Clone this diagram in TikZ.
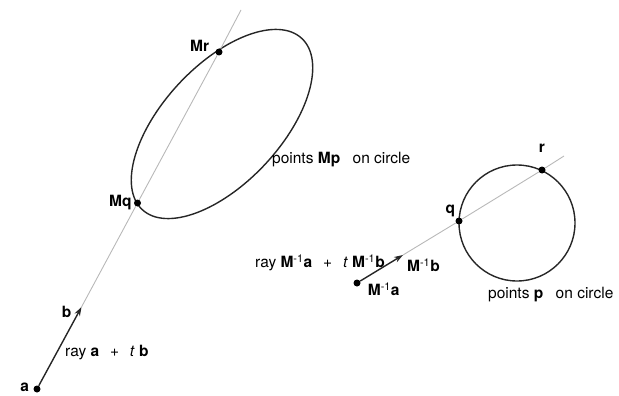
\documentclass[tikz,border=0pt]{standalone}
\usepackage{fontspec}
\setmainfont{TeX Gyre Heros}
\usetikzlibrary{arrows.meta,positioning}
\tikzset{
    spot/.style={
        circle,
        fill=black,
        inner sep=0pt,
        minimum size=7pt
    },
    lbl/.style={
        font=\fontsize{15.5}{18}\selectfont,
        inner sep=1pt
    },
    rayline/.style={
        draw=black!28,
        line width=0.9pt
    },
    raydir/.style={
        -{Stealth[length=9pt,width=6pt]},
        line width=1.4pt,
        draw=black!85
    },
    outline/.style={
        draw=black!85,
        line width=1.4pt
    }
}
\newcommand{\Minv}{\textbf{M}\textsuperscript{-1}}

\begin{document}
\begin{tikzpicture}[x=1pt, y=-1pt, node distance=2pt]
\useasboundingbox (0,0) rectangle (619,396);
% transformed ellipse and unit circle
\draw[outline, rotate around={47:(222,124)}] (222,124) ellipse [x radius=117, y radius=59];
\draw[outline] (517,223) circle [radius=58];
% points on the left ray
\node[spot] (a) at (37,389) {};
\node[spot] (Mq) at (137.5,203) {};
\node[spot] (Mr) at (219,52) {};
\coordinate (b) at (81.5,307);
\coordinate (aend) at (241,10);
% points on the right ray
\node[spot] (ia) at (357,283) {};
\node[spot] (q) at (459,221) {};
\node[spot] (r) at (542,170) {};
\coordinate (ib) at (403,255);
\coordinate (rend) at (564,156);
% rays
\draw[rayline] (b) -- (Mq) -- (Mr) -- (aend);
\draw[rayline] (ib) -- (q) -- (r) -- (rend);
\draw[raydir] (a) -- (b);
\draw[raydir] (ia) -- (ib);
% labels
\node[lbl, left=3pt of a, yshift=2pt] {\textbf{a}};
\node[lbl, left=9pt of b, yshift=-5pt] {\textbf{b}};
\node[lbl, anchor=west] at (64,353) {ray \textbf{a}\hspace{0.7em}+\hspace{0.7em}\textit{t} \textbf{b}};
\node[lbl, left=1pt of Mq] {\textbf{Mq}};
\node[lbl, left=5pt of Mr, yshift=6pt] {\textbf{Mr}};
\node[lbl, anchor=west] at (271,160) {points \textbf{Mp}\hspace{0.8em}on circle};
\node[lbl, above left=0pt and 0pt of q] {\textbf{q}};
\node[lbl, above=13pt of r] {\textbf{r}};
\node[lbl, right=3pt of ib, yshift=-10pt] {\Minv\textbf{b}};
\node[lbl, right=6pt of ia, yshift=-6pt] {\Minv\textbf{a}};
\node[lbl, anchor=west] at (254,263) {ray \Minv\textbf{a}\hspace{0.7em}+\hspace{0.7em}\textit{t} \Minv\textbf{b}};
\node[lbl, anchor=west] at (487,295) {points \textbf{p}\hspace{0.8em}on circle};
\end{tikzpicture}
\end{document}
